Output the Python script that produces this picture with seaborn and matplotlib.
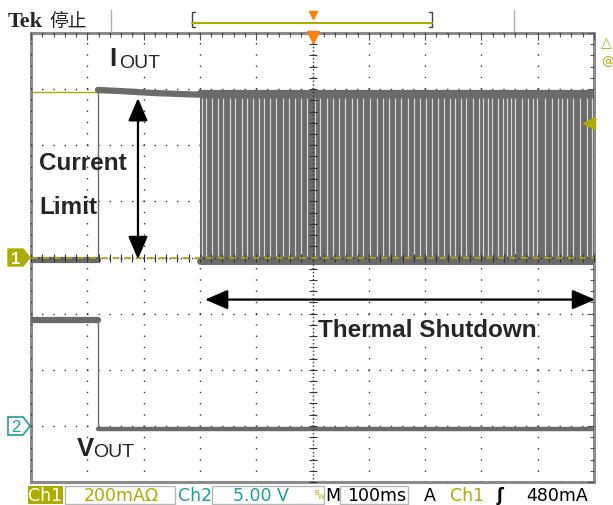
import numpy as np
import pandas as pd
import seaborn as sns
import matplotlib.pyplot as plt
from matplotlib.patches import Rectangle, Polygon
from matplotlib.lines import Line2D

# scope settings
ms_per_div = 100
ma_per_div = 200      # Ch1, I_OUT
v_per_div = 5.0       # Ch2, V_OUT
ch2_offset_div = -3
trig_level_ma = 480
ref_level_ma = 590

# Ch1 I_OUT (mA)
t_step = 119
iout_low_t = [0, 119]
iout_low_ma = [-9, -9]
iout_lim_t = [119, 160, 220, 300]
iout_lim_ma = [597, 593, 586, 580]
cycle_t = [300, 1000]
cycle_hi_ma = 585
cycle_lo_ma = -14
# light gaps between the thermal shutdown pulses (ms)
gaps_ms = [303, 311, 321, 332, 341, 353, 362, 374, 383, 394, 405, 414, 425,
           436, 448, 458, 469, 479, 490, 504, 513, 525, 536, 547, 558, 570,
           579, 590, 602, 614, 625, 636, 647, 658, 670, 680, 691, 702, 713,
           723, 734, 744, 753, 764, 773, 785, 795, 803, 812, 819, 829, 838,
           845, 853, 860, 872, 883, 891, 899, 913, 925, 936, 944, 952, 963,
           975, 988, 996]

# Ch2 V_OUT (V)
vout_hi_t = [0, 119]
vout_hi_v = [9.43, 9.43]
vout_lo_t = [119, 1000]
vout_lo_v = [-0.24, -0.24]

OLIVE = '#b0ab00'
TEAL = '#1a9e9e'
TRACE = '#6b6b6b'
ORANGE = '#ff7f00'

sns.set_theme(style='white')
plt.rcParams['font.family'] = ['Liberation Sans', 'DejaVu Sans']

W, H = 613, 506
fig = plt.figure(figsize=(W / 100, H / 100), dpi=100)


def fp(x, y):
    return x / W, 1 - y / H


def i_div(v):
    return np.asarray(v, dtype=float) / ma_per_div


def v_div(v):
    return np.asarray(v, dtype=float) / v_per_div + ch2_offset_div


ax = fig.add_axes([31 / W, 1 - 483 / H, 563 / W, 449 / H])
ax.set_xlim(0, 10 * ms_per_div)
ax.set_ylim(-4, 4)

# graticule
ax.set_xticks(np.arange(0, 1001, 100))
ax.set_yticks(np.arange(-4, 4.01, 1))
ax.set_xticks(np.arange(0, 1001, 20), minor=True)
ax.set_yticks(np.arange(-4, 4.01, 0.2), minor=True)
ax.tick_params(which='both', direction='in', top=True, right=True,
               labelbottom=False, labelleft=False, color='#555555', width=0.8)
ax.tick_params(which='major', length=5)
ax.tick_params(which='minor', length=3)
ax.grid(which='major', color='#333333', lw=1.0, linestyle=(0.5, (1, 7.1)))
ax.set_axisbelow(False)
for sp in ax.spines.values():
    sp.set_color('#8c8c8c')
    sp.set_linewidth(2.2)
ax.axvline(500, color='#333333', lw=1.0, linestyle=(0.5, (1, 1.7)), zorder=5)
ax.axhline(0, color='#333333', lw=1.0, linestyle=(0.5, (1, 1.7)), zorder=5)
ax.plot(np.full(41, 500.0), np.arange(-4, 4.01, 0.2), ls='none', marker='_',
        ms=6, mew=0.8, color='#333333', zorder=5)
ax.plot(np.arange(0, 1001, 20), np.zeros(51), ls='none', marker='|',
        ms=6, mew=0.8, color='#333333', zorder=5)

# Ch1 reference lines
ax.axhline(i_div(ref_level_ma), color=OLIVE, lw=1.0, zorder=2)
ax.axhline(0, color=OLIVE, lw=1.2, linestyle=(0, (4, 3)), zorder=6)

# I_OUT trace
ax.fill_between(cycle_t, i_div(cycle_lo_ma), i_div(cycle_hi_ma),
                color=TRACE, lw=0, zorder=3)
ax.vlines(gaps_ms, i_div(cycle_lo_ma) + 0.1, i_div(cycle_hi_ma) - 0.08,
          color='#d6d6d6', lw=0.9, zorder=3)
segs = [
    (iout_low_t, i_div(iout_low_ma), 4.5),
    (iout_lim_t, i_div(iout_lim_ma), 4.5),
    (cycle_t, i_div([cycle_hi_ma] * 2), 4.5),
    (cycle_t, i_div([cycle_lo_ma] * 2), 5.0),
    (vout_hi_t, v_div(vout_hi_v), 4.5),
    (vout_lo_t, v_div(vout_lo_v), 3.2),
]
for t, y, w in segs:
    sns.lineplot(x=t, y=y, ax=ax, color=TRACE, lw=w, zorder=4)
ax.vlines(t_step, i_div(iout_low_ma[0]), i_div(iout_lim_ma[0]),
          color=TRACE, lw=1.0, zorder=4)
ax.vlines(t_step, v_div(vout_lo_v[0]), v_div(vout_hi_v[0]),
          color=TRACE, lw=1.0, zorder=4)

# trigger level marker and trigger position marker
ax.plot([992], [i_div(trig_level_ma)], marker='<', ms=8, color=OLIVE,
        clip_on=False, zorder=8)
ax.plot([500], [3.93], marker='v', ms=9, color=ORANGE, clip_on=False,
        zorder=8)

# annotations
arrow = dict(arrowstyle='<|-|>,head_length=0.7,head_width=0.3',
             mutation_scale=20, lw=1.6, color='black', shrinkA=0, shrinkB=0)
ax.annotate('', xy=(190, -0.03), xytext=(190, 2.84), arrowprops=arrow,
            zorder=9)
ax.annotate('', xy=(309, -0.75), xytext=(1002, -0.75), arrowprops=arrow,
            annotation_clip=False, zorder=9)

fig.text(*fp(109, 66), 'I', fontsize=18.5, fontweight='bold', va='baseline')
fig.text(*fp(119, 68), 'OUT', fontsize=14, va='baseline')
fig.text(*fp(77, 456), 'V', fontsize=18.5, fontweight='bold', va='baseline')
fig.text(*fp(93, 457), 'OUT', fontsize=14, va='baseline')
fig.text(*fp(39, 170), 'Current', fontsize=17.5, fontweight='bold',
         va='baseline')
fig.text(*fp(39, 214), 'Limit', fontsize=17.5, fontweight='bold',
         va='baseline')
fig.text(*fp(318, 337), 'Thermal Shutdown', fontsize=17.5,
         fontweight='bold', va='baseline')


def poly(pts, **kw):
    fig.add_artist(Polygon([fp(x, y) for x, y in pts], closed=True,
                           transform=fig.transFigure, **kw))


def rect(x0, y0, x1, y1, **kw):
    fig.add_artist(Rectangle(fp(x0, y1), (x1 - x0) / W, (y1 - y0) / H,
                             transform=fig.transFigure, **kw))


def fline(xs, ys, **kw):
    fig.add_artist(Line2D([x / W for x in xs], [1 - y / H for y in ys],
                          transform=fig.transFigure, **kw))


# channel ground markers
poly([(8, 250), (23, 250), (30, 258.5), (23, 267), (8, 267)],
     facecolor=OLIVE, edgecolor=OLIVE, lw=1)
fig.text(*fp(16, 259), '1', color='white', fontsize=12, fontweight='bold',
         ha='center', va='center')
poly([(8, 418), (23, 418), (30, 426.8), (23, 436), (8, 436)],
     facecolor='white', edgecolor=TEAL, lw=1.2)
fig.text(*fp(16, 427.5), '2', color=TEAL, fontsize=12, ha='center',
         va='center')

# header
fig.text(*fp(8, 27), 'Tek', fontsize=16, fontweight='bold',
         family=['Liberation Serif', 'DejaVu Serif'], va='baseline')
fig.text(*fp(49, 27), '停止', fontsize=13.5,
         family=['Noto Sans CJK SC', 'DejaVu Sans'], va='baseline')
fline([111, 111], [11, 32], color='#b0b0b0', lw=1)
fline([514, 514], [11, 32], color='#b0b0b0', lw=1)
fline([195, 192, 192, 195], [13, 13, 28, 28], color='#444444', lw=1)
fline([429, 432, 432, 429], [13, 13, 28, 28], color='#444444', lw=1)
fline([192, 432], [24, 24], color=OLIVE, lw=1.5)
fline([313], [16], marker='v', ms=6, color=ORANGE, ls='none')
fig.text(*fp(601, 47), '\u25b3', color=OLIVE, fontsize=10, va='baseline',
         family=['DejaVu Sans'])
fig.text(*fp(601, 65), '@', color=OLIVE, fontsize=9, va='baseline',
         family=['DejaVu Sans'])

# status bar
sb = dict(fontsize=12.5, va='center', family=['DejaVu Sans'])
rect(28, 487, 63, 505, facecolor=OLIVE, edgecolor='none')
fig.text(*fp(45.5, 496), 'Ch1', color='white', ha='center', **sb)
rect(65, 487, 175, 505, facecolor='none', edgecolor='#b8b8b8', lw=1)
fig.text(*fp(84, 496), '200mA\u03a9', color=OLIVE, **sb)
fig.text(*fp(178, 496), 'Ch2', color=TEAL, **sb)
rect(212, 487, 324, 505, facecolor='none', edgecolor='#b8b8b8', lw=1)
fig.text(*fp(233, 496), '5.00 V', color=TEAL, **sb)
fig.text(*fp(314, 493), 'B', color=OLIVE, fontsize=5, va='center',
         family=['DejaVu Sans'])
fig.text(*fp(318, 497), 'W', color=OLIVE, fontsize=5, va='center',
         family=['DejaVu Sans'])
fig.text(*fp(325, 496), 'M', color='black', **sb)
rect(340, 487, 408, 505, facecolor='none', edgecolor='#b8b8b8', lw=1)
fig.text(*fp(347, 496), '100ms', color='black', **sb)
fig.text(*fp(424, 496), 'A', color='black', **sb)
fig.text(*fp(450, 496), 'Ch1', color=OLIVE, **sb)
fig.text(*fp(497, 496), '\u0283', color='black', fontsize=12,
         fontweight='bold', va='center', family=['DejaVu Sans'])
fig.text(*fp(526, 496), '480mA', color='black', **sb)

fig.savefig('out.png', dpi=100)
